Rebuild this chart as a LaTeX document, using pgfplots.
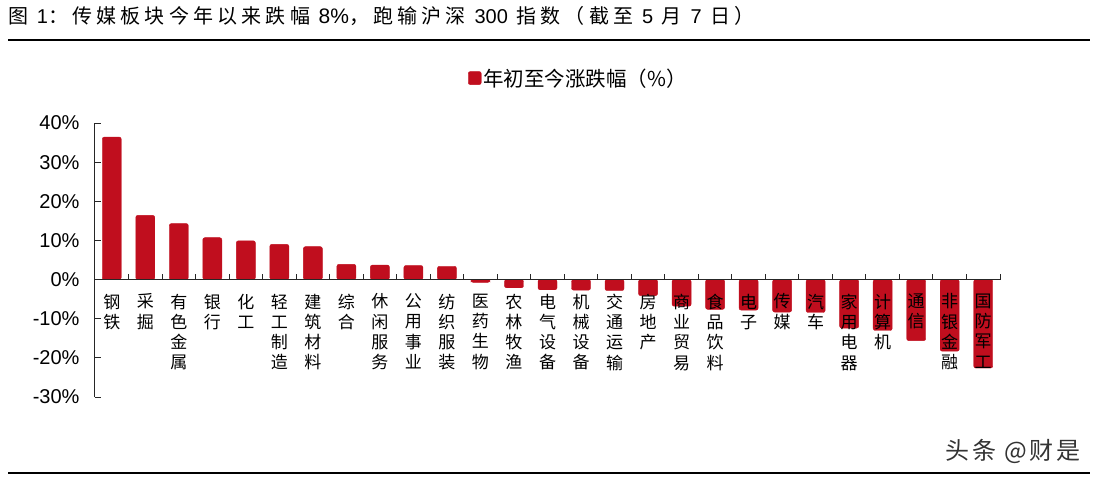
\documentclass[border=0pt]{standalone}
\usepackage{fontspec}
\usepackage{pgfplots}
\pgfplotsset{compat=1.18}
\newfontfamily\cjk{Noto Sans CJK SC}
\newfontfamily\cjkls[LetterSpace=21]{Noto Sans CJK SC}
\newfontfamily\cjkwm[LetterSpace=12]{Noto Sans CJK SC}
\newfontfamily\arial{Liberation Sans}
\definecolor{barred}{RGB}{192,14,30}
\begin{document}
\begin{tikzpicture}[x=1pt,y=1pt]
\path[use as bounding box] (0,0) rectangle (1095,480);
\node[anchor=west,inner sep=0] at (8,464) {\fontsize{20}{20}\selectfont\cjkls 图 {\arial 1}：传媒板块今年以来跌幅 {\arial\fontsize{21}{21}\selectfont 8\%}，跑输沪深 {\arial 300} 指数（截至 {\arial 5} 月 {\arial 7} 日）};
\draw[line width=2pt] (8,440) -- (1090,440);
\draw[line width=2pt] (8,7) -- (1090,7);
\node[anchor=east,inner sep=0,text=black!80] at (1081,29) {\cjkwm\fontsize{24}{24}\selectfont 头条 @财是};
\begin{axis}[
  at={(95pt,83pt)}, anchor=south west,
  scale only axis, width=905pt, height=274pt,
  xmin=-0.5, xmax=26.5, ymin=-30, ymax=40,
  axis x line=middle, axis y line=left,
  axis line style={-, line width=1pt, black!85},
  axis on top,
  clip=false,
  xtick={0,...,26},
  xticklabels={{钢\\铁},{采\\掘},{有\\色\\金\\属},{银\\行},{化\\工},{轻\\工\\制\\造},{建\\筑\\材\\料},{综\\合},{休\\闲\\服\\务},{公\\用\\事\\业},{纺\\织\\服\\装},{医\\药\\生\\物},{农\\林\\牧\\渔},{电\\气\\设\\备},{机\\械\\设\\备},{交\\通\\运\\输},{房\\地\\产},{商\\业\\贸\\易},{食\\品\\饮\\料},{电\\子},{传\\媒},{汽\\车},{家\\用\\电\\器},{计\\算\\机},{通\\信},{非\\银\\金\\融},{国\\防\\军\\工}},
  x tick label style={font=\cjk\fontsize{17}{20.3}\selectfont, align=center, anchor=north, yshift=-14pt, inner sep=0pt},
  major x tick style={draw=none},
  minor xtick={0.5,1.5,...,26.5},
  minor x tick style={black!85, line width=1pt},
  ytick={-30,-20,...,40},
  yticklabels={-30\%,-20\%,-10\%,0\%,10\%,20\%,30\%,40\%},
  y tick label style={font=\arial\fontsize{20}{20}\selectfont, xshift=-12pt},
  y tick style={black!85, line width=1pt},
  tick align=inside,
  major tick length=6pt, minor tick length=6pt,
  legend style={at={(0.412,1.164)}, anchor=west, draw=none, fill=none, font=\cjk\fontsize{20.5}{20.5}\selectfont, inner sep=0pt},
  legend image code/.code={\fill[barred] (0pt,-6.5pt) rectangle (13pt,6.5pt);},
]
\addplot[ybar, bar width=19pt, bar shift=0pt, fill=barred, draw=barred, rounded corners=2pt] coordinates {
(0,36.4) (1,16.4) (2,14.3) (3,10.7) (4,9.9) (5,9.0) (6,8.4) (7,3.9) (8,3.7) (9,3.6) (10,3.4)
(11,-0.7) (12,-2.1) (13,-2.6) (14,-2.7) (15,-2.8) (16,-4.1) (17,-6.8) (18,-7.6) (19,-7.8) (20,-8.3)
(21,-8.4) (22,-12.4) (23,-13.0) (24,-15.6) (25,-18.3) (26,-22.6)};
\addlegendentry{年初至今涨跌幅（\%）}
\end{axis}
\end{tikzpicture}
\end{document}
